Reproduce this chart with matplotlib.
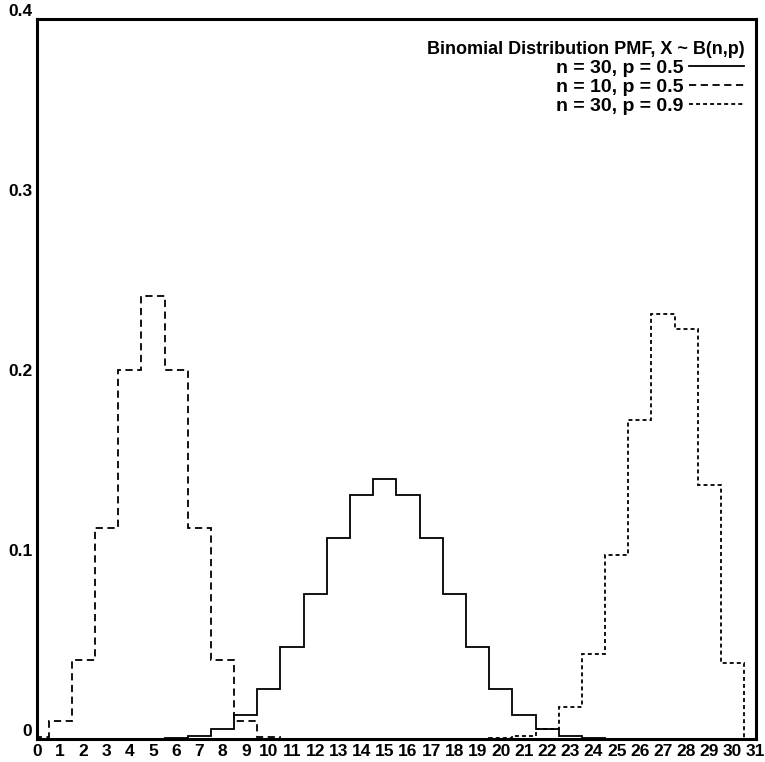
import matplotlib.pyplot as plt
import numpy as np

plt.rcParams.update({'font.family': 'Liberation Sans', 'font.weight': 'bold'})

# bin centres k = 0..30, PMF values
k30 = np.arange(31)
pmf_30_05 = [0.0, 0.0, 0.0, 0.0, 0.0, 0.0001, 0.0006, 0.0019, 0.0055, 0.0133,
             0.0280, 0.0509, 0.0806, 0.1115, 0.1354, 0.1445, 0.1354, 0.1115,
             0.0806, 0.0509, 0.0280, 0.0133, 0.0055, 0.0019, 0.0006, 0.0001,
             0.0, 0.0, 0.0, 0.0, 0.0]
k10 = np.arange(11)
pmf_10_05 = [0.0010, 0.0098, 0.0439, 0.1172, 0.2051, 0.2461, 0.2051, 0.1172,
             0.0439, 0.0098, 0.0010]
pmf_30_09 = [0.0, 0.0, 0.0, 0.0, 0.0, 0.0, 0.0, 0.0, 0.0, 0.0,
             0.0, 0.0, 0.0, 0.0, 0.0, 0.0, 0.0, 0.0, 0.0, 0.0001,
             0.0004, 0.0016, 0.0058, 0.0180, 0.0474, 0.1023, 0.1771, 0.2361,
             0.2277, 0.1413, 0.0424]
labels = ['n = 30, p = 0.5', 'n = 10, p = 0.5', 'n = 30, p = 0.9']
xticks = np.arange(32)
yticks = [0, 0.1, 0.2, 0.3, 0.4]

fig = plt.figure(figsize=(7.65, 7.62), dpi=100)
ax = fig.add_axes([0.0484, 0.0302, 0.9396, 0.9448])

lw = 1.3
h1 = ax.stairs(pmf_30_05, np.append(k30 - 0.5, 30.5), color='black', lw=lw,
               linestyle='-', baseline=0, label=labels[0])
h2 = ax.stairs(pmf_10_05, np.append(k10 - 0.5, 10.5), color='black', lw=lw,
               linestyle=(0, (4, 2.5)), baseline=0, label=labels[1])
h3 = ax.stairs(pmf_30_09, np.append(k30 - 0.5, 30.5), color='black', lw=lw,
               linestyle=(0, (2.2, 1.7)), baseline=0, label=labels[2])

ax.set_xlim(0, 31)
ax.set_ylim(0, 0.4)
ax.set_xticks(xticks)
ax.set_xticklabels([str(v) for v in xticks], fontsize=12.5)
ax.set_yticks(yticks)
ax.set_yticklabels(['0', '0.1', '0.2', '0.3', '0.4'], fontsize=12.5)
for t in ax.get_yticklabels():
    t.set_va('bottom')
ax.tick_params(length=0, pad=3.5)
for s in ax.spines.values():
    s.set_linewidth(2.2)

leg = ax.legend(handles=[h1, h2, h3], loc='upper right', bbox_to_anchor=(1, 0.986),
                frameon=False, markerfirst=False,
                title='Binomial Distribution PMF, X ~ B(n,p)',
                alignment='right', fontsize=14, title_fontsize=13,
                handlelength=2.83, handletextpad=0.28, labelspacing=0.08,
                borderaxespad=0.4, borderpad=0.2)
leg.get_title().set_fontweight('bold')
for t in leg.get_texts():
    t.set_fontweight('bold')

fig.savefig('out.png', dpi=100)
